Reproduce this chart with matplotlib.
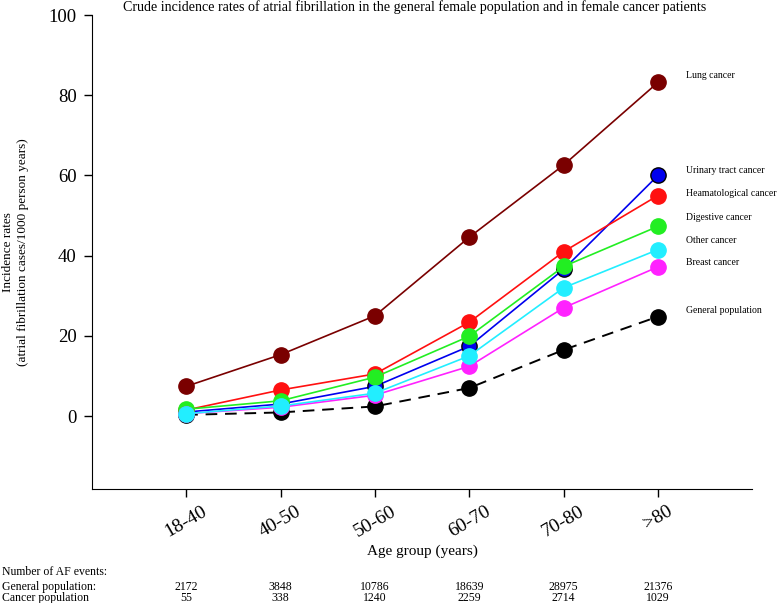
import numpy as np
import matplotlib.pyplot as plt

plt.rcParams['font.family'] = ['Liberation Serif', 'DejaVu Serif']

# Data
age_groups = ['18-40', '40-50', '50-60', '60-70', '70-80', '>80']
general = [0.3, 0.9, 2.4, 7.0, 16.5, 24.8]
lung = [7.4, 15.3, 25.0, 44.6, 62.6, 83.2]
urinary = [1.0, 3.0, 7.4, 17.4, 36.6, 60.0]
haem = [1.5, 6.5, 10.5, 23.4, 41.0, 55.0]
digestive = [1.7, 3.8, 9.7, 19.9, 37.3, 47.3]
breast = [0.6, 2.2, 5.2, 12.4, 27.0, 37.2]
other = [0.6, 2.5, 5.7, 15.0, 32.0, 41.5]
events_general = [2172, 3848, 10786, 18639, 28975, 21376]
events_cancer = [55, 338, 1240, 2259, 2714, 1029]

label_names = ['Lung cancer', 'Urinary tract cancer', 'Heamatological cancer',
               'Digestive cancer', 'Other cancer', 'Breast cancer', 'General population']
label_y = [85, 61.3, 55.6, 49.6, 43.9, 38.2, 26.4]

fig = plt.figure(figsize=(7.78, 6.03), dpi=100)
ax = fig.add_axes([0.118, 0.189, 0.849, 0.786])
x = np.arange(1, 7)

ax.plot(x, general, color='black', ls=(0, (6, 4)), lw=1.4, marker='o', ms=11, zorder=2)
ax.plot(x, lung, color='#7a0000', lw=1.2, marker='o', ms=11, zorder=3)
ax.plot(x, urinary, color='#0000ee', lw=1.2, marker='o', ms=11, mec='black', mew=1, zorder=4)
ax.plot(x, haem, color='#ff1010', lw=1.2, marker='o', ms=11, zorder=5)
ax.plot(x, digestive, color='#22ee22', lw=1.2, marker='o', ms=11, zorder=6)
ax.plot(x, breast, color='#ff22ff', lw=1.2, marker='o', ms=11, zorder=7)
ax.plot(x, other, color='#22eeff', lw=1.2, marker='o', ms=11, zorder=8)

for name, yy in zip(label_names, label_y):
    ax.text(6.30, yy, name, fontsize=7.0, va='center', ha='left')

ax.set_xlim(0, 7)
ax.set_ylim(-18.2, 100)
ax.set_xticks(x)
ax.set_xticklabels(age_groups, rotation=30, fontsize=14)
ax.set_yticks([0, 20, 40, 60, 80, 100])
ax.tick_params(axis='y', labelsize=13.5, direction='out', length=6, width=1, pad=5)
ax.tick_params(axis='x', direction='out', length=6, width=1, pad=4)
ax.spines['top'].set_visible(False)
ax.spines['right'].set_visible(False)

fig.text(0.02, 0.582, 'Incidence rates\n(atrial fibrillation cases/1000 person years)',
         rotation=90, ha='center', va='center', fontsize=9.5, linespacing=1.3)
fig.text(0.543, 0.085, 'Age group (years)', ha='center', va='center', fontsize=11)
fig.text(0.533, 0.988, 'Crude incidence rates of atrial fibrillation in the general female population and in female cancer patients',
         ha='center', va='center', fontsize=10.1)

# table of AF events
fig.text(0.002, 0.052, 'Number of AF events:', fontsize=8.5, va='center')
fig.text(0.002, 0.027, 'General population:', fontsize=8.5, va='center')
fig.text(0.002, 0.008, 'Cancer population', fontsize=8.5, va='center')
for xi, g, c in zip(x, events_general, events_cancer):
    xf = ax.transData.transform((xi, 0))[0] / fig.bbox.width
    fig.text(xf, 0.027, str(g), fontsize=8.5, ha='center', va='center')
    fig.text(xf, 0.008, str(c), fontsize=8.5, ha='center', va='center')

fig.savefig('out.png', dpi=100)
